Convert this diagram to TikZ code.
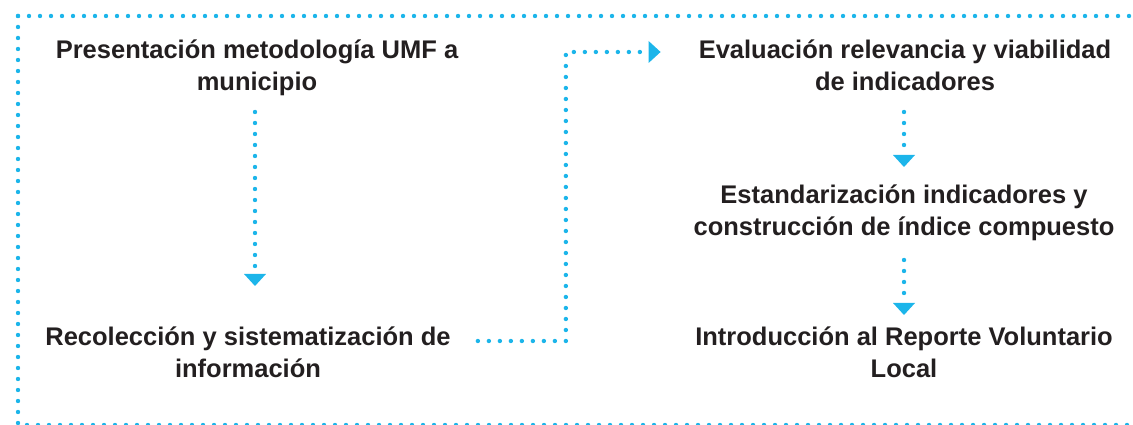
\documentclass[tikz,border=0pt]{standalone}
\usepackage{fontspec}
\setmainfont{Liberation Sans}
\usetikzlibrary{arrows.meta}
\definecolor{umfcyan}{HTML}{1CB5EA}
\definecolor{umftext}{HTML}{231F20}

\tikzset{
  etapa/.style={anchor=base, align=center, inner sep=0pt, text=umftext,
    font=\fontsize{25.5}{32}\selectfont\bfseries},
  punteado/.style={draw=umfcyan, line width=4.4pt, line cap=round,
    dash pattern=on 0pt off 11pt},
  flecha/.style={punteado, -{Triangle[width=22pt,length=12pt,line width=0pt]}}
}

\begin{document}
\begin{tikzpicture}[x=1pt,y=1pt]
\useasboundingbox (0,0) rectangle (1133,425);

% marco punteado (abierto a la derecha)
\draw[punteado] (18,409) -- (1133,409);
\draw[punteado] (18,409) -- (18,0) -- (1133,0);

% etapas (base = linea de abajo)
\foreach \n/\x/\y/\t in {
  b1/257/334/{Presentación metodología UMF a\\municipio},
  b2/248/47/{Recolección y sistematización de\\información},
  b3/905/334/{Evaluación relevancia y viabilidad\\de indicadores},
  b4/904/189/{Estandarización indicadores y\\construcción de índice compuesto},
  b5/904/47/{Introducción al Reporte Voluntario\\Local}} {
  \node[etapa] (\n) at (\x,\y) {\t};
}

% flechas
\draw[flecha] ([shift={(-2pt,-21pt)}]b1.base) -- ([shift={(7pt,92pt)}]b2.base);
\draw[flecha] ([shift={(27pt,37pt)}]b2.base east) -- ++(88,0)
  |- ([shift={(-38pt,39pt)}]b3.base west);
\draw[flecha] ([shift={(-1pt,-21pt)}]b3.base) -- ([yshift=69pt]b4.base);
\draw[flecha] ([yshift=-24pt]b4.base) -- ([yshift=63pt]b5.base);
\end{tikzpicture}
\end{document}
